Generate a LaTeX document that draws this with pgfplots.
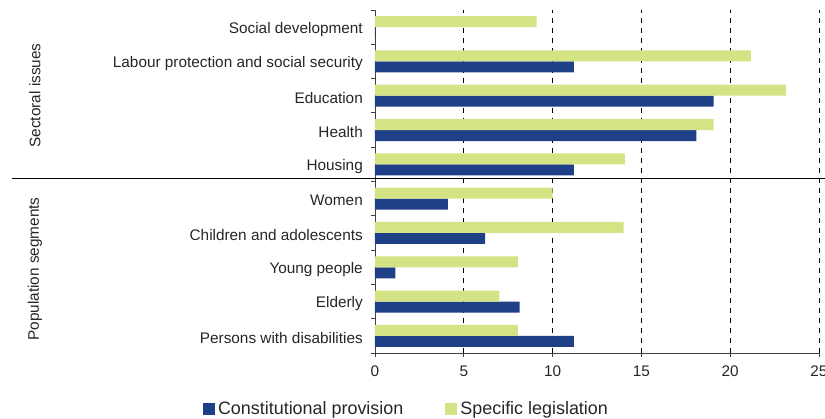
\documentclass[border=0pt]{standalone}
\usepackage{pgfplots}
\pgfplotsset{compat=1.18}
\usepackage{fontspec}
\setmainfont{Liberation Sans}
\definecolor{cblue}{RGB}{31,63,135}
\definecolor{cgreen}{RGB}{212,227,131}
\definecolor{axgray}{RGB}{64,64,64}
\begin{document}
\begin{tikzpicture}
\begin{axis}[
  at={(0,0)}, anchor=south west,
  scale only axis, width=444bp, height=343bp,
  xmin=0, xmax=25, ymin=-0.5, ymax=9.5,
  xbar, bar width=11bp,
  axis x line*=bottom, axis y line*=left,
  axis line style={draw=axgray, line width=0.9bp},
  xtick={0,5,...,25},
  minor xtick={0,5,...,25},
  ytick={0,...,9},
  minor ytick={-0.5,0.5,...,9.5},
  yticklabels={Persons with disabilities, Elderly, Young people, Children and adolescents, Women, Housing, Health, Education, Labour protection and social security, Social development},
  major tick length=0pt,
  minor tick length=4bp,
  tick align=outside,
  minor tick style={draw=axgray, line width=0.9bp},
  xmajorgrids=true,
  major grid style={draw=black, line width=0.8bp, dash pattern=on 5bp off 5bp},
  /pgf/number format/assume math mode=true,
  tick label style={font=\fontsize{15.4}{17}\selectfont, text=black!85},
  yticklabel style={inner sep=0pt, xshift=-12bp, yshift=-2bp},
  xticklabel style={inner sep=0pt, yshift=-13bp},
  legend style={at={(axis description cs:0.072,-0.163)}, anchor=center,
    draw=none, fill=none, inner sep=0pt,
    font=\fontsize{18}{20}\selectfont,
    /tikz/every even column/.append style={column sep=39bp},
    nodes={inner sep=3bp, text=black!85}},
  legend columns=2,
  legend cell align=left,
]
\addplot[draw=none, fill=cblue, bar shift=-5.5bp,
  legend image code/.code={\fill[cblue] (0bp,-6bp) rectangle (12bp,6bp);}]
  coordinates {(11.2,0) (8.15,1) (1.15,2) (6.2,3) (4.1,4) (11.2,5) (18.1,6) (19.07,7) (11.2,8) (0,9)};
\addlegendentry{Constitutional provision}
\addplot[draw=none, fill=cgreen, bar shift=5.5bp,
  legend image code/.code={\fill[cgreen] (0bp,-6bp) rectangle (12bp,6bp);}]
  coordinates {(8.05,0) (7.0,1) (8.05,2) (14.0,3) (10.0,4) (14.07,5) (19.07,6) (23.15,7) (21.17,8) (9.1,9)};
\addlegendentry{Specific legislation}
\end{axis}
\draw[black, line width=1bp] (-363bp,174bp) -- (450bp,174bp);
\node[rotate=90, font=\fontsize{15.4}{17}\selectfont, text=black!85] at (-340bp,257.5bp) {Sectoral issues};
\node[rotate=90, font=\fontsize{15.4}{17}\selectfont, text=black!85] at (-340bp,84bp) {Population segments};
\pgfresetboundingbox
\path[use as bounding box] (-375bp,-66bp) rectangle (450bp,353bp);
\end{tikzpicture}
\end{document}
